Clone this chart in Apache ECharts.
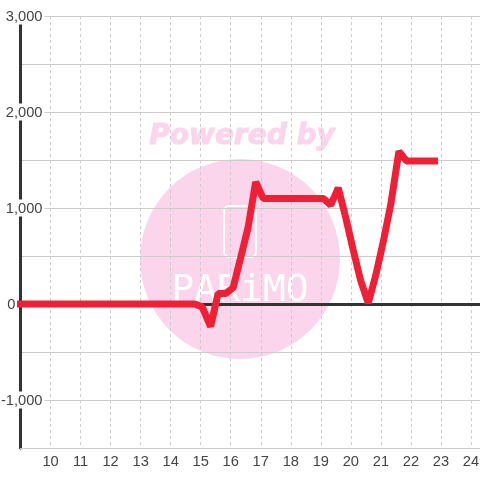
<!DOCTYPE html>
<html>
<head>
<meta charset="utf-8">
<style>
  html, body { margin: 0; padding: 0; background: #fff; }
  #chart { width: 480px; height: 480px; }
</style>
<script src="https://cdn.jsdelivr.net/npm/echarts@6/dist/echarts.min.js"></script>
</head>
<body>
<div id="chart"></div>
<script>
const xValues = [8.87, 14.8, 15.05, 15.33, 15.58, 15.83, 16.08, 16.33, 16.58, 16.83, 17.08, 17.33, 17.83, 18.33, 18.83, 19.08, 19.33, 19.58, 19.83, 20.08, 20.33, 20.58, 20.83, 21.08, 21.33, 21.6, 21.85, 22.1, 22.9]
const yValues = [0, 0, -30, -235, 110, 110, 170, 480, 800, 1270, 1100, 1100, 1100, 1100, 1100, 1100, 1030, 1210, 900, 560, 240, 10, 300, 650, 1040, 1590, 1490, 1490, 1490]
const xTickValues = [10, 11, 12, 13, 14, 15, 16, 17, 18, 19, 20, 21, 22, 23, 24]
const yTickValues = [-1000, 0, 1000, 2000, 3000]
const yTickLabels = ['-1,000', '0', '1,000', '2,000', '3,000']

const X_MIN = 9
const X_MAX = 24.3

const chart = echarts.init(document.getElementById('chart'), null, { renderer: 'canvas' })

const option = {
  animation: false,
  backgroundColor: '#fff',
  textStyle: { fontFamily: 'Liberation Sans' },
  grid: { left: 20.5, right: 0, top: 16, bottom: 32, outerBoundsMode: 'none' },
  graphic: [
    {
      type: 'circle',
      z: -10,
      shape: { cx: 240, cy: 259, r: 100 },
      style: { fill: '#fbd5ec' }
    },
    {
      type: 'text',
      z: -10,
      x: 242,
      y: 137,
      style: {
        text: 'Powered by',
        fill: '#fbd5ec',
        stroke: '#fbd5ec',
        lineWidth: 1,
        font: 'italic bold 28px "DejaVu Sans"',
        align: 'center',
        verticalAlign: 'middle'
      }
    },
    {
      type: 'rect',
      z: -9,
      shape: { x: 224, y: 206, width: 32, height: 51, r: 5 },
      style: { fill: 'transparent', stroke: '#fff', lineWidth: 2 }
    },
    {
      type: 'text',
      z: -9,
      x: 240,
      y: 291,
      style: {
        text: 'PARiMO',
        fill: '#fff',
        font: '38px "DejaVu Sans Mono"',
        align: 'center',
        verticalAlign: 'middle'
      }
    }
  ],
  xAxis: [
    {
      type: 'value',
      min: X_MIN,
      max: X_MAX,
      interval: 1,
      axisLine: { onZero: false, lineStyle: { color: '#ccc', width: 1 } },
      axisTick: { show: false },
      axisLabel: {
        color: '#444',
        fontSize: 14.67,
        margin: 6,
        showMaxLabel: false,
        formatter: (value) => (xTickValues.includes(value) ? String(value) : '')
      },
      splitLine: { lineStyle: { color: '#ccc', width: 1, type: [3, 3] } }
    },
    {
      // dark zero line
      type: 'value',
      min: X_MIN,
      max: X_MAX,
      interval: 1,
      axisLine: { onZero: true, lineStyle: { color: '#333', width: 3 } },
      axisTick: { show: false },
      axisLabel: { show: false },
      splitLine: { show: false }
    }
  ],
  yAxis: {
    type: 'value',
    min: -1500,
    max: 3000,
    interval: 500,
    axisLine: { show: true, lineStyle: { color: '#333', width: 3 } },
    axisTick: { show: false },
    axisLabel: {
      margin: -24,
      formatter: (value) => {
        const i = yTickValues.indexOf(value)
        if (i < 0) return ''
        return (value === 0 ? '{z|' : '{v|') + yTickLabels[i] + '}'
      },
      rich: {
        v: { color: '#444', fontSize: 14.67, backgroundColor: '#fff', padding: [2, 2, 0, 0] },
        z: { color: '#444', fontSize: 14.67, padding: [2, 29, 0, 0] }
      }
    },
    splitLine: { lineStyle: { color: '#ccc', width: 1 } }
  },
  series: [
    {
      type: 'line',
      data: xValues.map((x, i) => [x, yValues[i]]),
      symbol: 'none',
      clip: false,
      lineStyle: { color: '#ef2036', width: 7 }
    }
  ]
}

chart.setOption(option)
window.addEventListener('resize', () => chart.resize())
</script>
</body>
</html>
